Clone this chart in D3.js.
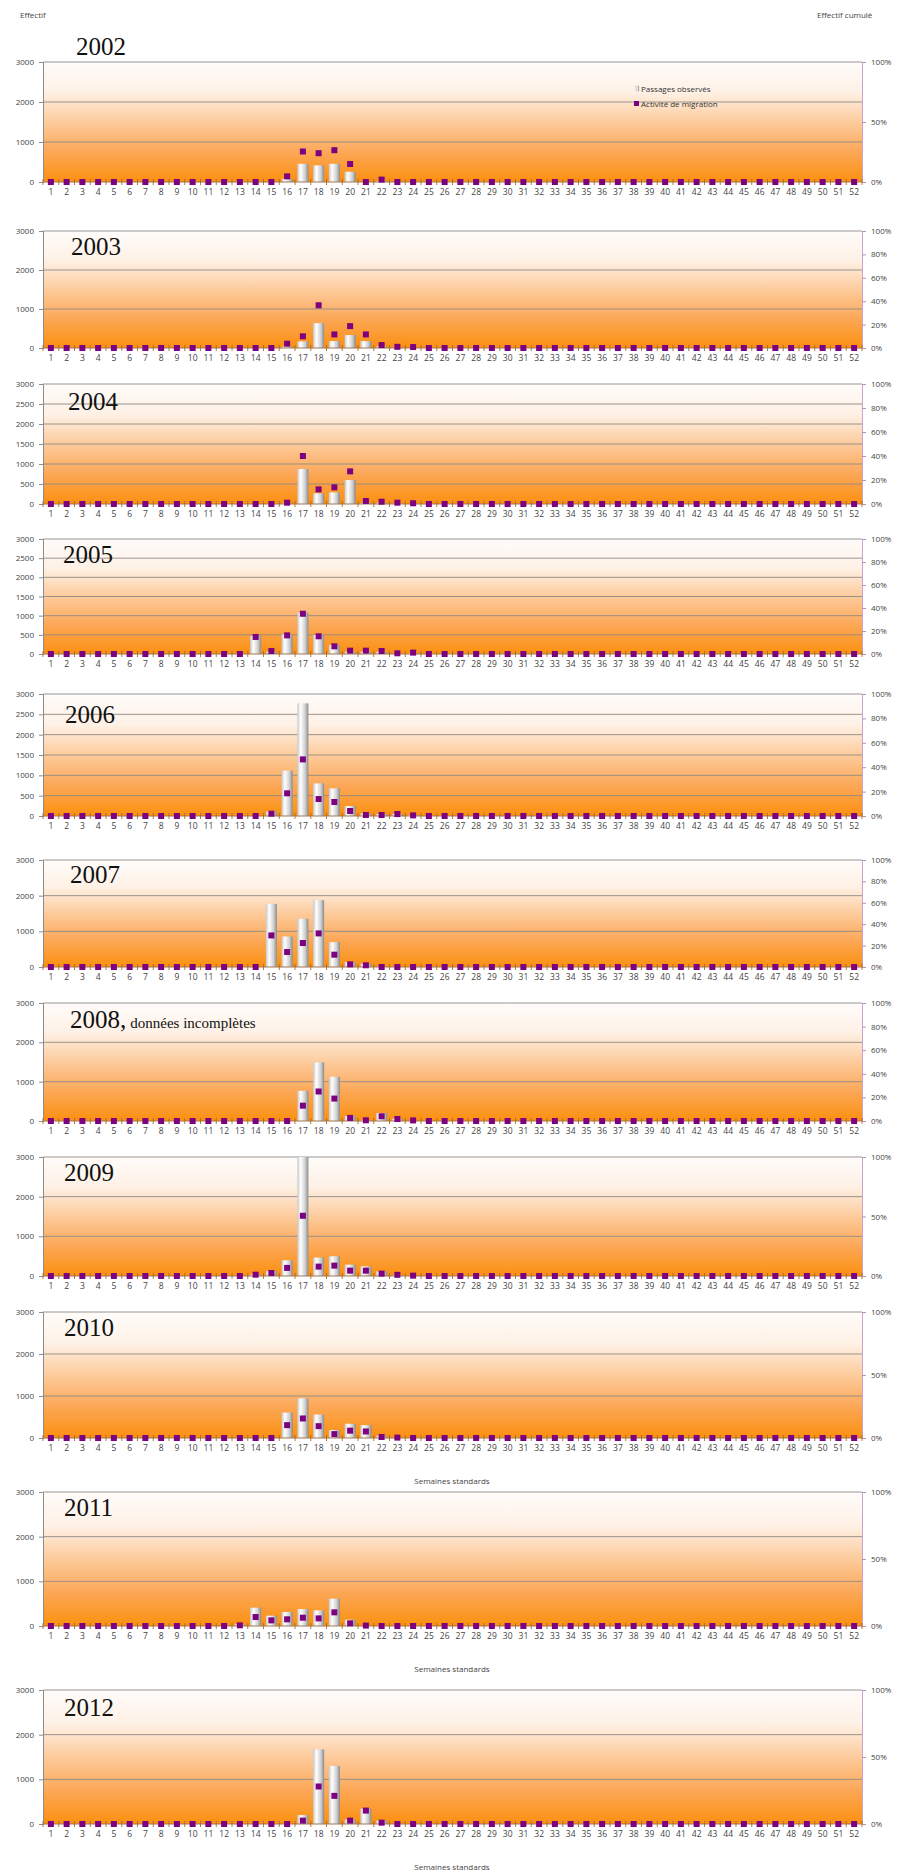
<!DOCTYPE html>
<html>
<head>
<meta charset="utf-8">
<script src="https://cdn.jsdelivr.net/npm/d3@7"></script>
<style>
  body { margin: 0; background: #fff; }
</style>
</head>
<body>
<svg id="chart" width="901" height="1872"></svg>
<script>
// semaines standards 1..52
const weeks = d3.range(1, 53)

// passages observés (effectif / semaine)
const p2002 = [0,0,0,0,0,0,0,0,0,0,0,0, 0,0,0,80,455,415,455,257,0,30,0,0, 0,0,0,0,0,0,0,0,0,0,0,0,0,0,0,0,0,0,0,0,0,0,0,0,0,0,0,0]
const p2003 = [0,0,0,0,0,0,0,0,0,0,0,0, 0,0,0,40,170,637,178,331,178,40,10,0, 0,0,0,0,0,0,0,0,0,0,0,0,0,0,0,0,0,0,0,0,0,0,0,0,0,0,0,0]
const p2004 = [0,0,0,0,0,0,0,0,0,0,0,0, 0,0,0,20,875,267,292,600,30,30,10,0, 0,0,0,0,0,0,0,0,0,0,0,0,0,0,0,0,0,0,0,0,0,0,0,0,0,0,0,0]
const p2005 = [0,0,0,0,0,0,0,0,0,0,0,0, 0,470,60,513,1079,496,235,60,60,60,0,20, 0,0,0,0,0,0,0,0,0,0,0,0,0,0,0,0,0,0,0,0,0,0,0,0,0,0,0,0]
const p2006 = [0,0,0,0,0,0,0,0,0,0,0,0, 0,0,115,1115,2770,803,680,246,66,50,50,20, 0,0,0,0,0,0,0,0,0,0,0,0,0,0,0,0,0,0,0,0,0,0,0,0,0,0,0,0]
const p2007 = [0,0,0,0,0,0,0,0,0,0,0,0, 0,0,1770,857,1351,1873,699,140,93,0,0,0, 0,0,0,0,0,0,0,0,0,0,0,0,0,0,0,0,0,0,0,0,0,0,0,0,0,0,0,0]
const p2008 = [0,0,0,0,0,0,0,0,0,0,0,0, 0,0,0,0,767,1491,1125,128,20,204,60,0, 0,0,0,0,0,0,0,0,0,0,0,0,0,0,0,0,0,0,0,0,0,0,0,0,0,0,0,0]
const p2009 = [0,0,0,0,0,0,0,0,0,0,0,0, 0,40,127,397,3100,464,498,287,245,118,20,0, 0,0,0,0,0,0,0,0,0,0,0,0,0,0,0,0,0,0,0,0,0,0,0,0,0,0,0,0]
const p2010 = [0,0,0,0,0,0,0,0,0,0,0,0, 0,0,0,606,945,559,189,339,307,55,0,0, 0,0,0,0,0,0,0,0,0,0,0,0,0,0,0,0,0,0,0,0,0,0,0,0,0,0,0,0]
const p2011 = [0,0,0,0,0,0,0,0,0,0,0,0, 37,410,231,313,380,351,612,142,0,0,0,0, 0,0,0,0,0,0,0,0,0,0,0,0,0,0,0,0,0,0,0,0,0,0,0,0,0,0,0,0]
const p2012 = [0,0,0,0,0,0,0,0,0,0,0,0, 0,0,0,0,200,1670,1300,100,345,80,0,0, 0,0,0,0,0,0,0,0,0,0,0,0,0,0,0,0,0,0,0,0,0,0,0,0,0,0,0,0]

// activité de migration (% de l'effectif cumulé)
const a2002 = [0,0,0,0,0,0,0,0,0,0,0,0, 0,0,0,4.7,25.4,24,26.5,15,0,2,0,0, 0,0,0,0,0,0,0,0,0,0,0,0,0,0,0,0,0,0,0,0,0,0,0,0,0,0,0,0]
const a2003 = [0,0,0,0,0,0,0,0,0,0,0,0, 0,0,0,3.7,10,36.5,11.6,18.7,11.6,2.5,1,0.8, 0,0,0,0,0,0,0,0,0,0,0,0,0,0,0,0,0,0,0,0,0,0,0,0,0,0,0,0]
const a2004 = [0,0,0,0,0,0,0,0,0,0,0,0, 0,0,0,1.1,40,12.2,13.9,27.2,2.5,1.9,1.1,0.6, 0,0,0,0,0,0,0,0,0,0,0,0,0,0,0,0,0,0,0,0,0,0,0,0,0,0,0,0]
const a2005 = [0,0,0,0,0,0,0,0,0,0,0,0, 0,14.8,2.6,16.2,35,15.4,6.7,2.9,2.9,2.6,0.6,1.2, 0,0,0,0,0,0,0,0,0,0,0,0,0,0,0,0,0,0,0,0,0,0,0,0,0,0,0,0]
const a2006 = [0,0,0,0,0,0,0,0,0,0,0,0, 0,0,1.9,18.6,46.4,13.9,11.5,4.1,0.8,0.8,1.6,0.5, 0,0,0,0,0,0,0,0,0,0,0,0,0,0,0,0,0,0,0,0,0,0,0,0,0,0,0,0]
const a2007 = [0,0,0,0,0,0,0,0,0,0,0,0, 0,0,29.5,14,22.4,31.4,11.5,2.5,1.6,0,0,0, 0,0,0,0,0,0,0,0,0,0,0,0,0,0,0,0,0,0,0,0,0,0,0,0,0,0,0,0]
const a2008 = [0,0,0,0,0,0,0,0,0,0,0,0, 0,0,0,0,13,25,19,2.6,0.6,4,1.7,0.5, 0,0,0,0,0,0,0,0,0,0,0,0,0,0,0,0,0,0,0,0,0,0,0,0,0,0,0,0]
const a2009 = [0,0,0,0,0,0,0,0,0,0,0,0, 0,1.1,2.5,6.8,50.6,7.9,8.7,4.5,4.5,2,1,0.3, 0,0,0,0,0,0,0,0,0,0,0,0,0,0,0,0,0,0,0,0,0,0,0,0,0,0,0,0]
const a2010 = [0,0,0,0,0,0,0,0,0,0,0,0, 0,0,0,10.2,15.5,9.4,3.1,5.8,5.2,0.8,0.3,0, 0,0,0,0,0,0,0,0,0,0,0,0,0,0,0,0,0,0,0,0,0,0,0,0,0,0,0,0]
const a2011 = [0,0,0,0,0,0,0,0,0,0,0,0, 0.5,6.7,4.2,5,6.2,5.7,10.2,2,0.3,0,0,0, 0,0,0,0,0,0,0,0,0,0,0,0,0,0,0,0,0,0,0,0,0,0,0,0,0,0,0,0]
const a2012 = [0,0,0,0,0,0,0,0,0,0,0,0, 0,0,0,0,2.5,28,21,2.5,10,1,0,0, 0,0,0,0,0,0,0,0,0,0,0,0,0,0,0,0,0,0,0,0,0,0,0,0,0,0,0,0]

// graduations
const ticks1000 = [0, 1000, 2000, 3000]
const ticks500 = [0, 500, 1000, 1500, 2000, 2500, 3000]
const pct20 = [0, 20, 40, 60, 80, 100]
const pct50 = [0, 50, 100]

// une ligne par année ; top/bottom = position du panneau
const panels = [
    { year: "2002", p: p2002, a: a2002, left: ticks1000, right: pct50, top: 62, bottom: 182, titleX: 76, titleY: -15, legend: true },
    { year: "2003", p: p2003, a: a2003, left: ticks1000, right: pct20, top: 231, bottom: 348, titleX: 71, titleY: 16 },
    { year: "2004", p: p2004, a: a2004, left: ticks500, right: pct20, top: 384, bottom: 504, titleX: 68, titleY: 18 },
    { year: "2005", p: p2005, a: a2005, left: ticks500, right: pct20, top: 539, bottom: 654, titleX: 63, titleY: 16 },
    { year: "2006", p: p2006, a: a2006, left: ticks500, right: pct20, top: 694, bottom: 816, titleX: 65, titleY: 21 },
    { year: "2007", p: p2007, a: a2007, left: ticks1000, right: pct20, top: 860, bottom: 967, titleX: 70, titleY: 15 },
    { year: "2008", p: p2008, a: a2008, left: ticks1000, right: pct20, top: 1003, bottom: 1121, titleX: 70, titleY: 17, note: ", données incomplètes" },
    { year: "2009", p: p2009, a: a2009, left: ticks1000, right: pct50, top: 1157, bottom: 1276, titleX: 64, titleY: 16 },
    { year: "2010", p: p2010, a: a2010, left: ticks1000, right: pct50, top: 1312, bottom: 1438, titleX: 64, titleY: 16, xTitle: true },
    { year: "2011", p: p2011, a: a2011, left: ticks1000, right: pct50, top: 1492, bottom: 1626, titleX: 64, titleY: 16, xTitle: true },
    { year: "2012", p: p2012, a: a2012, left: ticks1000, right: pct50, top: 1690, bottom: 1824, titleX: 64, titleY: 18, xTitle: true }
]

const plotLeft = 43
const plotRight = 862
const sans = "'Open Sans', 'DejaVu Sans', sans-serif"
const serif = "'Liberation Serif', 'DejaVu Serif', serif"

const svg = d3.select("#chart").style("font-family", sans)
const defs = svg.append("defs")

let bg = defs.append("linearGradient").attr("id", "bg")
    .attr("x1", 0).attr("y1", 0).attr("x2", 0).attr("y2", 1)
bg.append("stop").attr("offset", "0%").attr("stop-color", "#fffcfa")
bg.append("stop").attr("offset", "25%").attr("stop-color", "#fef1e6")
bg.append("stop").attr("offset", "50%").attr("stop-color", "#fdcb9c")
bg.append("stop").attr("offset", "75%").attr("stop-color", "#fca757")
bg.append("stop").attr("offset", "100%").attr("stop-color", "#fb900f")

let bar = defs.append("linearGradient").attr("id", "bar")
    .attr("x1", 0).attr("y1", 0).attr("x2", 1).attr("y2", 0)
bar.append("stop").attr("offset", "0%").attr("stop-color", "#c8c8c8")
bar.append("stop").attr("offset", "30%").attr("stop-color", "#ffffff")
bar.append("stop").attr("offset", "70%").attr("stop-color", "#d0d0d0")
bar.append("stop").attr("offset", "100%").attr("stop-color", "#8a8a8a")

const x = d3.scaleBand().domain(weeks).range([plotLeft, plotRight])
    .paddingInner(0.3).paddingOuter(0.15)
const xEdge = d3.scaleLinear().domain([0, weeks.length]).range([plotLeft, plotRight])

// titres généraux
svg.append("text").attr("x", 20).attr("y", 18).attr("font-size", 8).attr("fill", "#444").text("Effectif")
svg.append("text").attr("x", 817).attr("y", 18).attr("font-size", 8).attr("fill", "#444").text("Effectif cumulé")

panels.forEach(d => {
    let y = d3.scaleLinear().domain([0, 3000]).range([d.bottom, d.top]).clamp(true)
    let yr = d3.scaleLinear().domain([0, 100]).range([d.bottom, d.top])
    let g = svg.append("g")

    g.append("rect")
        .attr("x", plotLeft).attr("y", d.top)
        .attr("width", plotRight - plotLeft).attr("height", d.bottom - d.top)
        .attr("fill", "url(#bg)")

    g.selectAll(".grid")
        .data(d.left.filter(v => v > 0))
        .enter().append("line")
        .attr("x1", plotLeft).attr("x2", plotRight)
        .attr("y1", v => y(v)).attr("y2", v => y(v))
        .attr("stroke", "#8f8a86").attr("stroke-width", 0.9)

    // axe gauche
    let left = g.append("g").attr("transform", `translate(${plotLeft},0)`)
        .call(d3.axisLeft(y).tickValues(d.left).tickSize(4).tickPadding(5).tickFormat(d3.format("d")))
    left.attr("font-family", sans)
    left.select(".domain").attr("stroke", "#8c8c8c")
    left.selectAll(".tick line").attr("stroke", "#8c8c8c")
    left.selectAll("text").attr("font-size", 8).attr("fill", "#444")

    // axe droit
    let right = g.append("g").attr("transform", `translate(${plotRight},0)`)
        .call(d3.axisRight(yr).tickValues(d.right).tickSize(4).tickPadding(5).tickFormat(v => v + "%"))
    right.attr("font-family", sans)
    right.select(".domain").attr("stroke", "#c9a3c9")
    right.selectAll(".tick line").attr("stroke", "#b890b8")
    right.selectAll("text").attr("font-size", 8).attr("fill", "#444")

    // barres
    g.selectAll(".bar")
        .data(weeks.filter((w, i) => d.p[i] > 0))
        .enter().append("rect")
        .attr("x", w => x(w))
        .attr("width", x.bandwidth())
        .attr("y", w => y(d.p[w - 1]))
        .attr("height", w => d.bottom - y(d.p[w - 1]))
        .attr("fill", "url(#bar)")

    // axe des semaines
    g.append("line")
        .attr("x1", plotLeft).attr("x2", plotRight)
        .attr("y1", d.bottom).attr("y2", d.bottom)
        .attr("stroke", "#a07850").attr("stroke-width", 1)
    g.selectAll(".xt")
        .data(d3.range(0, weeks.length + 1))
        .enter().append("line")
        .attr("x1", i => xEdge(i)).attr("x2", i => xEdge(i))
        .attr("y1", d.bottom - 3).attr("y2", d.bottom + 3)
        .attr("stroke", "#b4661e").attr("stroke-width", 0.9)

    let bottom = g.append("g").attr("transform", `translate(0,${d.bottom})`)
        .call(d3.axisBottom(x).tickSize(0).tickPadding(7))
    bottom.attr("font-family", sans)
    bottom.select(".domain").remove()
    bottom.selectAll("text").attr("font-size", 8.5).attr("fill", "#444")

    // activité de migration
    g.selectAll(".sq")
        .data(weeks)
        .enter().append("rect")
        .attr("x", w => x(w) + x.bandwidth() / 2 - 3)
        .attr("y", w => yr(d.a[w - 1]) - 3)
        .attr("width", 6).attr("height", 6)
        .attr("fill", "#7d0080")

    // titre de l'année
    let t = g.append("text")
        .attr("x", d.titleX)
        .attr("y", d.top + d.titleY + 8)
        .style("font-family", serif)
        .attr("font-size", 25).attr("fill", "#111")
    t.append("tspan").text(d.year)
    if (d.note) {
        let parts = d.note.split(" ")
        t.append("tspan").text(parts[0])
        t.append("tspan").attr("font-size", 15).attr("dx", 4).text(parts.slice(1).join(" "))
    }

    if (d.xTitle) {
        g.append("text").attr("x", 452).attr("y", d.bottom + 46)
            .attr("text-anchor", "middle").attr("font-size", 8).attr("fill", "#444")
            .text("Semaines standards")
    }

    if (d.legend) {
        let lg = g.append("g").attr("transform", `translate(634,${d.top})`)
        lg.append("rect").attr("x", 2).attr("y", 24).attr("width", 3).attr("height", 5).attr("fill", "url(#bar)").attr("stroke", "#999").attr("stroke-width", 0.3)
        lg.append("text").attr("x", 7).attr("y", 29.5).attr("font-size", 8).attr("fill", "#333").text("Passages observés")
        lg.append("rect").attr("x", 0).attr("y", 39).attr("width", 5).attr("height", 5).attr("fill", "#7d0080")
        lg.append("text").attr("x", 7).attr("y", 44.5).attr("font-size", 8).attr("fill", "#333").text("Activité de migration")
    }
})
</script>
</body>
</html>
